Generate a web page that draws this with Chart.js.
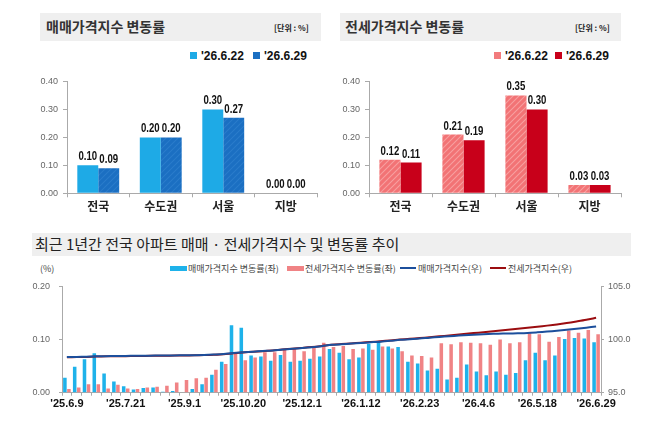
<!DOCTYPE html>
<html>
<head>
<meta charset="utf-8">
<script src="https://cdn.jsdelivr.net/npm/chart.js@4.4.1/dist/chart.umd.min.js"></script>
<style>
  body { margin: 0; background: #fff; font-family: "Noto Sans CJK KR", sans-serif; }
  #wrap { position: relative; width: 658px; height: 426px; overflow: hidden; }
  .bar { position: absolute; background: #efefef; }
  .ttl { position: absolute; font-size: 14px; font-weight: bold; color: #333; white-space: nowrap; }
  .unit { position: absolute; font-size: 8px; font-weight: bold; color: #222; white-space: nowrap; }
  .lg { position: absolute; font-size: 12px; font-weight: bold; color: #111; white-space: nowrap;
        font-family: "Liberation Sans", sans-serif; }
  .sq { display: inline-block; width: 7px; height: 7px; margin-right: 4px; vertical-align: 1px; }
  .lg2 { position: absolute; font-size: 9px; color: #444; white-space: nowrap; top: 262px; }
  .rect { display: inline-block; width: 17px; height: 5px; margin-right: 1px; vertical-align: 1px; }
  .ln { display: inline-block; width: 16px; height: 2px; margin-right: 2px; vertical-align: 3px; }
  canvas { position: absolute; }
</style>
</head>
<body>
<div id="wrap">
  <div class="bar" style="left:40px;top:13px;width:281px;height:28px"></div>
  <div class="ttl" style="left:46px;top:16px">매매가격지수 변동률</div>
  <div class="unit" style="left:274px;top:22px">[단위 : %]</div>
  <div class="lg" style="left:190px;top:49px"><span class="sq" style="background:#1eaae6"></span>'26.6.22</div>
  <div class="lg" style="left:253px;top:49px"><span class="sq" style="background:#1b6fc2"></span>'26.6.29</div>

  <div class="bar" style="left:340px;top:13px;width:281px;height:28px"></div>
  <div class="ttl" style="left:345px;top:16px">전세가격지수 변동률</div>
  <div class="unit" style="left:575px;top:22px">[단위 : %]</div>
  <div class="lg" style="left:494px;top:49px"><span class="sq" style="background:#f27b7d"></span>'26.6.22</div>
  <div class="lg" style="left:555px;top:49px"><span class="sq" style="background:#c8001a"></span>'26.6.29</div>

  <div class="bar" style="left:32px;top:233px;width:599px;height:23px"></div>
  <div class="ttl" style="left:35px;top:233px;font-size:15px;font-weight:normal;color:#222">최근 1년간 전국 아파트 매매 · 전세가격지수 및 변동률 추이</div>
  <div class="lg2" style="left:40px">(%)</div>
  <div class="lg2" style="left:170px"><span class="rect" style="background:#1eb2ea"></span>매매가격지수 변동률(좌)</div>
  <div class="lg2" style="left:287px"><span class="rect" style="background:#f08385"></span>전세가격지수 변동률(좌)</div>
  <div class="lg2" style="left:400px"><span class="ln" style="background:#1c4f9c"></span>매매가격지수(우)</div>
  <div class="lg2" style="left:490px"><span class="ln" style="background:#9b0d10"></span>전세가격지수(우)</div>

  <canvas id="c1" width="329" height="150" style="left:0;top:70px"></canvas>
  <canvas id="c2" width="329" height="150" style="left:329px;top:70px"></canvas>
  <canvas id="c3" width="658" height="150" style="left:0;top:272px"></canvas>
</div>
<script>
// top panels: weekly change by region
const regions = ['전국', '수도권', '서울', '지방'];
const weekNames = ["'26.6.22", "'26.6.29"];
const saleChgPrev = [0.10, 0.20, 0.30, 0.00];
const saleChgLast = [0.09, 0.20, 0.27, 0.00];
const rentChgPrev = [0.12, 0.21, 0.35, 0.03];
const rentChgLast = [0.11, 0.19, 0.30, 0.03];

// bottom panel: last year, national apartments
const weeks = ["'25.6.9","'25.6.16","'25.6.23","'25.6.30","'25.7.7","'25.7.14","'25.7.21","'25.7.28",
  "'25.8.4","'25.8.11","'25.8.18","'25.8.25","'25.9.1","'25.9.8","'25.9.15","'25.9.22","'25.9.29",
  "'25.10.13","'25.10.20","'25.10.27","'25.11.3","'25.11.10","'25.11.17","'25.11.24","'25.12.1",
  "'25.12.8","'25.12.15","'25.12.22","'25.12.29","'26.1.5","'26.1.12","'26.1.19","'26.1.26",
  "'26.2.2","'26.2.9","'26.2.16","'26.2.23","'26.3.2","'26.3.9","'26.3.16","'26.3.23","'26.3.30",
  "'26.4.6","'26.4.13","'26.4.20","'26.4.27","'26.5.4","'26.5.11","'26.5.18","'26.5.25","'26.6.1",
  "'26.6.8","'26.6.15","'26.6.22","'26.6.29"];
const saleChg = [0.028,0.049,0.063,0.074,0.036,0.021,0.012,0.006,0.009,0.010,0.002,0.003,0.001,0.007,
  0.016,0.034,0.058,0.127,0.122,0.070,0.068,0.060,0.071,0.058,0.060,0.064,0.068,0.082,0.075,0.063,
  0.066,0.092,0.097,0.087,0.086,0.058,0.055,0.042,0.045,0.025,0.028,0.053,0.040,0.033,0.040,0.034,
  0.037,0.061,0.075,0.061,0.070,0.101,0.103,0.102,0.095];
const rentChg = [0.007,0.010,0.016,0.016,0.008,0.015,0.008,0.007,0.010,0.011,0.013,0.019,0.024,0.027,
  0.028,0.043,0.054,0.074,0.061,0.066,0.076,0.076,0.081,0.083,0.078,0.085,0.094,0.086,0.088,0.082,
  0.083,0.081,0.087,0.083,0.078,0.070,0.069,0.066,0.093,0.091,0.095,0.094,0.093,0.090,0.100,0.093,
  0.095,0.112,0.110,0.096,0.105,0.117,0.113,0.118,0.110];
const saleIdx = [98.35,98.37,98.39,98.42,98.44,98.45,98.46,98.47,98.48,98.49,98.50,98.51,98.52,98.53,
  98.55,98.59,98.64,98.74,98.80,98.86,98.92,98.98,99.06,99.13,99.20,99.28,99.38,99.50,99.56,99.62,
  99.68,99.74,99.80,99.88,99.97,100.03,100.09,100.17,100.24,100.31,100.37,100.43,100.48,100.52,
  100.55,100.57,100.59,100.62,100.68,100.75,100.83,100.92,101.02,101.12,101.22];
const rentIdx = [98.33,98.35,98.37,98.40,98.42,98.43,98.44,98.45,98.46,98.47,98.48,98.49,98.50,98.52,
  98.54,98.57,98.62,98.72,98.79,98.85,98.91,98.98,99.06,99.14,99.21,99.29,99.39,99.50,99.57,99.63,
  99.70,99.77,99.84,99.92,100.00,100.07,100.14,100.22,100.30,100.39,100.47,100.56,100.65,100.74,
  100.83,100.92,101.01,101.11,101.21,101.31,101.42,101.55,101.70,101.86,102.05];

const KR = '"Noto Sans CJK KR", sans-serif';
const NUM = '"Liberation Sans", sans-serif';

function hatch(bg, fg) {
  const c = document.createElement('canvas');
  c.width = 6; c.height = 6;
  const g = c.getContext('2d');
  g.fillStyle = bg; g.fillRect(0, 0, 6, 6);
  g.strokeStyle = fg; g.lineWidth = 1.1;
  g.beginPath();
  g.moveTo(0, 6); g.lineTo(6, 0);
  g.moveTo(-3, 3); g.lineTo(3, -3);
  g.moveTo(3, 9); g.lineTo(9, 3);
  g.stroke();
  return g.createPattern(c, 'repeat');
}

// value above each bar, squeezed like a narrow font
const valueLabels = {
  id: 'valueLabels',
  afterDatasetsDraw(chart) {
    const ctx = chart.ctx;
    chart.data.datasets.forEach((ds, i) => {
      chart.getDatasetMeta(i).data.forEach((bar, j) => {
        ctx.save();
        ctx.translate(bar.x, bar.y - 5);
        ctx.scale(0.74, 1);
        ctx.font = 'bold 13px "Liberation Sans", sans-serif';
        ctx.fillStyle = '#111';
        ctx.textAlign = 'center';
        ctx.fillText(ds.data[j].toFixed(2), 0, 0);
        ctx.restore();
      });
    });
  }
};

function regionChart(id, prev, last, colPrev, colLast, yWidth, padRight) {
  return new Chart(document.getElementById(id), {
    type: 'bar',
    data: {
      labels: regions,
      datasets: [
        { label: weekNames[0], data: prev, backgroundColor: colPrev },
        { label: weekNames[1], data: last, backgroundColor: colLast }
      ]
    },
    options: {
      responsive: false,
      animation: false,
      categoryPercentage: 0.67,
      barPercentage: 1.0,
      layout: { padding: { top: 11.5, bottom: 4, left: 0, right: padRight } },
      plugins: { legend: { display: false }, tooltip: { enabled: false } },
      scales: {
        x: {
          grid: { drawOnChartArea: false, offset: true, tickLength: 4, color: '#aaa' },
          border: { color: '#aaa' },
          ticks: { font: { family: KR, size: 12, weight: 'bold' }, color: '#222', padding: 2 },
          afterFit(s) { s.height = 22.7; }
        },
        y: {
          min: 0, max: 0.4,
          grid: { drawOnChartArea: false, tickLength: 4, color: '#aaa' },
          border: { color: '#aaa' },
          ticks: { stepSize: 0.1, callback: v => v.toFixed(2), font: { family: NUM, size: 9 }, color: '#666', padding: 5 },
          afterFit(s) { s.width = yWidth; }
        }
      }
    },
    plugins: [valueLabels]
  });
}

regionChart('c1', saleChgPrev, saleChgLast, '#1eaae6', hatch('#1b6fc2', '#2a7ccb'), 67, 12);
regionChart('c2', rentChgPrev, rentChgLast, hatch('#f27375', '#f7a0a0'), '#c8001a', 40, 37);

new Chart(document.getElementById('c3'), {
  type: 'bar',
  data: {
    labels: weeks,
    datasets: [
      { type: 'line', label: '매매가격지수(우)', data: saleIdx, yAxisID: 'y2', borderColor: '#1c4f9c',
        borderWidth: 2, pointRadius: 0, tension: 0.3, order: 0 },
      { type: 'line', label: '전세가격지수(우)', data: rentIdx, yAxisID: 'y2', borderColor: '#9b0d10',
        borderWidth: 2, pointRadius: 0, tension: 0.3, order: 0 },
      { label: '매매가격지수 변동률(좌)', data: saleChg, backgroundColor: '#1eb2ea', yAxisID: 'y', order: 1 },
      { label: '전세가격지수 변동률(좌)', data: rentChg, backgroundColor: '#f08385', yAxisID: 'y', order: 1 }
    ]
  },
  options: {
    responsive: false,
    animation: false,
    categoryPercentage: 0.82,
    barPercentage: 0.88,
    layout: { padding: { top: 10.7, bottom: 5.3, left: 0, right: 15 } },
    plugins: { legend: { display: false }, tooltip: { enabled: false } },
    scales: {
      x: {
        grid: { drawOnChartArea: false, offset: true, tickLength: 3, color: '#aaa' },
        border: { color: '#aaa' },
        ticks: {
          autoSkip: false, maxRotation: 0, minRotation: 0,
          callback: (v, i) => (i % 6 === 0 ? weeks[i] : ''),
          font: { family: NUM, size: 11, weight: 'bold' }, color: '#111', padding: 2
        },
        afterFit(s) { s.height = 24; }
      },
      y: {
        position: 'left', min: 0, max: 0.2,
        grid: { drawOnChartArea: false, tickLength: 3, color: '#aaa' },
        border: { color: '#aaa' },
        ticks: { stepSize: 0.1, callback: v => v.toFixed(2), font: { family: NUM, size: 9 }, color: '#666', padding: 9 },
        afterFit(s) { s.width = 62; }
      },
      y2: {
        position: 'right', min: 95, max: 105,
        grid: { drawOnChartArea: false, tickLength: 3, color: '#aaa' },
        border: { color: '#aaa' },
        ticks: { stepSize: 5, callback: v => v.toFixed(1), font: { family: NUM, size: 9 }, color: '#666', padding: 4 },
        afterFit(s) { s.width = 42; }
      }
    }
  }
});
</script>
</body>
</html>
